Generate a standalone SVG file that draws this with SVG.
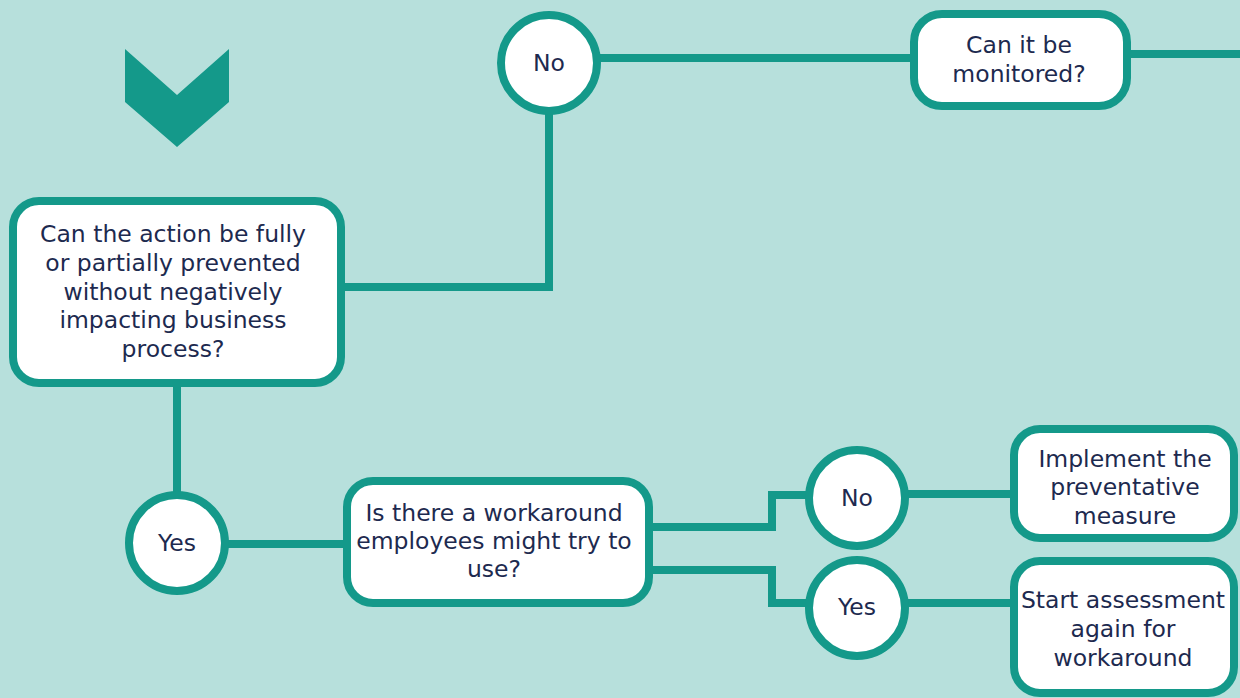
<svg xmlns="http://www.w3.org/2000/svg" width="1240" height="698" viewBox="0 0 1240 698">
<style>
.ln{fill:none;stroke:#14998a;stroke-width:8}
.bx{fill:#ffffff;stroke:#14998a;stroke-width:8}
.t{font-family:"DejaVu Sans","Liberation Sans",sans-serif;font-size:23.5px;fill:#1d2a4f;text-anchor:middle}
</style>
<rect x="0" y="0" width="1240" height="698" fill="#b7e0dc"/>
<g id="chevron"><polygon points="125,49 177,95 229,49 229,102 177,147 125,102" fill="#14998a"/></g>
<g id="connectors">
<polyline class="ln" points="340,287 549,287 549,110"/>
<line class="ln" x1="595" y1="58" x2="918" y2="58"/>
<line class="ln" x1="1125" y1="54" x2="1240" y2="54"/>
<line class="ln" x1="177" y1="380" x2="177" y2="495"/>
<line class="ln" x1="225" y1="544" x2="347" y2="544"/>
<polyline class="ln" points="648,527 772,527 772,495 810,495"/>
<polyline class="ln" points="648,570 772,570 772,603 810,603"/>
<line class="ln" x1="904" y1="494" x2="1014" y2="494"/>
<line class="ln" x1="904" y1="603" x2="1014" y2="603"/>
</g>
<g id="n-prevent">
<rect class="bx" x="13" y="201" width="328" height="182" rx="26"/>
<text class="t"><tspan x="173" y="242">Can the action be fully</tspan><tspan x="173" y="271">or partially prevented</tspan><tspan x="173" y="300">without negatively</tspan><tspan x="173" y="328">impacting business</tspan><tspan x="173" y="357">process?</tspan></text>
</g>
<g id="n-no1"><circle class="bx" cx="549" cy="63" r="48"/><text class="t" x="549" y="71">No</text></g>
<g id="n-monitor">
<rect class="bx" x="914" y="14" width="213" height="92" rx="28"/>
<text class="t"><tspan x="1019" y="53">Can it be</tspan><tspan x="1019" y="82">monitored?</tspan></text>
</g>
<g id="n-yes1"><circle class="bx" cx="177" cy="543" r="48"/><text class="t" x="177" y="551">Yes</text></g>
<g id="n-workaround">
<rect class="bx" x="347" y="481" width="302" height="122" rx="26"/>
<text class="t"><tspan x="494" y="521">Is there a workaround</tspan><tspan x="494" y="549">employees might try to</tspan><tspan x="494" y="577">use?</tspan></text>
</g>
<g id="n-no2"><circle class="bx" cx="857" cy="498" r="48"/><text class="t" x="857" y="506">No</text></g>
<g id="n-yes2"><circle class="bx" cx="857" cy="608" r="48"/><text class="t" x="857" y="615">Yes</text></g>
<g id="n-implement">
<rect class="bx" x="1014" y="429" width="220" height="109" rx="26"/>
<text class="t"><tspan x="1125" y="467">Implement the</tspan><tspan x="1125" y="495">preventative</tspan><tspan x="1125" y="524">measure</tspan></text>
</g>
<g id="n-restart">
<rect class="bx" x="1014" y="561" width="220" height="132" rx="26"/>
<text class="t"><tspan x="1123" y="608">Start assessment</tspan><tspan x="1123" y="637">again for</tspan><tspan x="1123" y="666">workaround</tspan></text>
</g>
</svg>
